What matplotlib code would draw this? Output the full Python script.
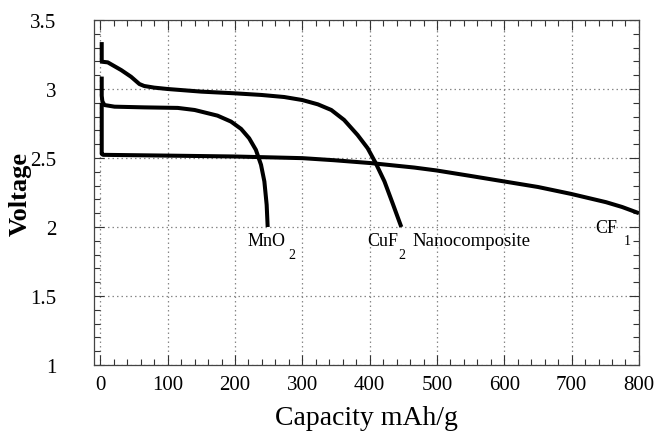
import matplotlib
matplotlib.use("Agg")
import matplotlib.pyplot as plt
from matplotlib.ticker import MultipleLocator, FormatStrFormatter

plt.rcParams['font.family'] = ['Liberation Serif', 'DejaVu Serif']

cuf2_x = [2, 2, 11, 31, 45.5, 58, 65, 80, 100, 150, 199, 239, 273, 300, 323, 343, 362, 382, 397, 409, 422, 434, 447]
cuf2_y = [3.34, 3.198, 3.193, 3.137, 3.089, 3.036, 3.022, 3.01, 3.0, 2.981, 2.969, 2.957, 2.942, 2.92, 2.889, 2.848, 2.776, 2.667, 2.571, 2.463, 2.33, 2.173, 2.0]

mno2_x = [2, 2, 3, 6, 21, 65, 115, 140, 174, 194, 209, 221, 231, 238.6, 243.6, 247, 248.5]
mno2_y = [3.09, 2.95, 2.91, 2.884, 2.872, 2.867, 2.863, 2.848, 2.807, 2.764, 2.711, 2.643, 2.559, 2.451, 2.33, 2.161, 2.0]

cf1_x = [2, 2, 4, 90, 199, 300, 347, 402, 466, 499, 550, 600, 650, 699, 751, 775, 800]
cf1_y = [2.9, 2.53, 2.523, 2.518, 2.511, 2.499, 2.484, 2.463, 2.431, 2.41, 2.37, 2.33, 2.29, 2.24, 2.18, 2.145, 2.10]

x_ticks = [0, 100, 200, 300, 400, 500, 600, 700, 800]
y_ticks = [1, 1.5, 2, 2.5, 3, 3.5]

fig = plt.figure(figsize=(6.54, 4.35), dpi=100)
ax = fig.add_axes([0.1437, 0.1586, 0.977 - 0.1437, 0.9517 - 0.1586])

for xs, ys in [(cf1_x, cf1_y), (mno2_x, mno2_y), (cuf2_x, cuf2_y)]:
    ax.plot(xs, ys, color='black', lw=2.9, solid_joinstyle='round', solid_capstyle='butt')

ax.set_xlim(-9.5, 800)
ax.set_ylim(1, 3.5)
ax.set_xticks(x_ticks)
ax.set_yticks(y_ticks)
ax.xaxis.set_minor_locator(MultipleLocator(20))
ax.yaxis.set_minor_locator(MultipleLocator(0.1))
ax.yaxis.set_major_formatter(FormatStrFormatter('%g'))
ax.tick_params(which='both', direction='in', top=True, right=True, colors='#333333', labelcolor='black')
ax.tick_params(which='major', length=7, width=0.8, labelsize=15)
ax.tick_params(which='minor', length=4, width=0.8)
ax.tick_params(axis='y', which='major', pad=27)
ax.tick_params(axis='x', which='major', pad=7)
for s in ax.spines.values():
    s.set_linewidth(0.9)
    s.set_color('#444444')

ax.grid(True, which='major', color='#888888', linestyle=(0, (1.2, 2.4)), linewidth=0.9)
ax.set_axisbelow(True)

ax.set_xlabel('Capacity mAh/g', fontsize=20, labelpad=8)
ax.set_ylabel('Voltage', fontsize=19, fontweight='bold', labelpad=8)
ax.yaxis.set_label_coords(-0.115, 0.5)

ax.text(218.5, 1.899, 'MnO', fontsize=13, va='center', ha='left')
ax.text(284, 1.80, '2', fontsize=10, va='center', ha='center')
ax.text(397, 1.899, 'CuF', fontsize=13, va='center', ha='left')
ax.text(448.5, 1.80, '2', fontsize=10, va='center', ha='center')
ax.text(463.5, 1.899, 'Nanocomposite', fontsize=13.5, va='center', ha='left')
ax.text(735, 1.993, 'CF', fontsize=13, va='center', ha='left')
ax.text(782, 1.90, '1', fontsize=10, va='center', ha='center')

fig.savefig('out.png', dpi=100)
